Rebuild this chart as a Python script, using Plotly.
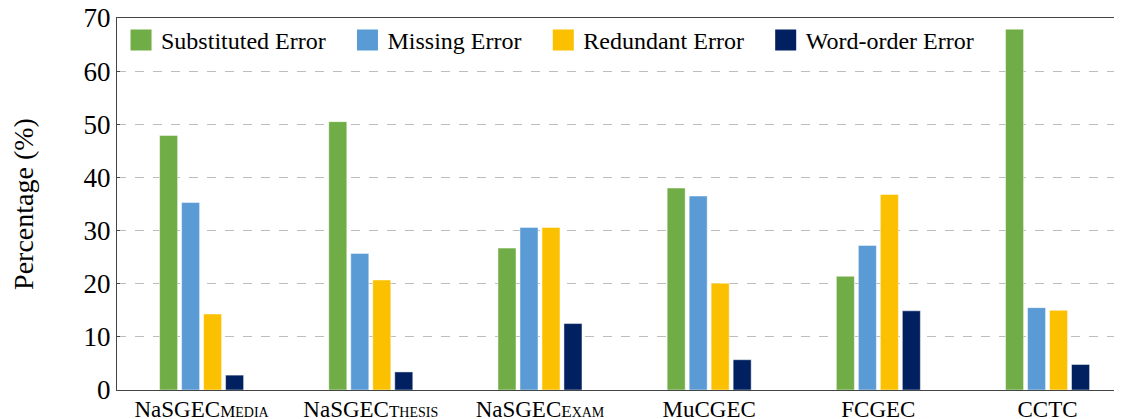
import plotly.graph_objects as go

categories = [
    "NaSGEC<span style='font-size:17px'>M</span><span style='font-size:14px'>EDIA</span>",
    "NaSGEC<span style='font-size:17px'>T</span><span style='font-size:14px'>HESIS</span>",
    "NaSGEC<span style='font-size:17px'>E</span><span style='font-size:14px'>XAM</span>",
    "MuCGEC",
    "FCGEC",
    "CCTC",
]
series_names = ["Substituted Error", "Missing Error", "Redundant Error", "Word-order Error"]
substituted = [47.9, 50.5, 26.7, 38.0, 21.4, 67.9]
missing = [35.3, 25.7, 30.6, 36.5, 27.2, 15.5]
redundant = [14.3, 20.7, 30.6, 20.1, 36.8, 15.0]
word_order = [2.8, 3.4, 12.5, 5.7, 14.9, 4.8]
y_ticks = [0, 10, 20, 30, 40, 50, 60, 70]

colors = ["#70AD47", "#5B9BD5", "#FBC000", "#002060"]
values = [substituted, missing, redundant, word_order]

FONT = "Liberation Serif"
xpos = list(range(len(categories)))
PAD = "\u00a0\u00a0\u2009"

fig = go.Figure()
for name, vals, col in zip(series_names, values, colors):
    fig.add_trace(go.Bar(
        x=xpos, y=vals, name=name, showlegend=False,
        marker=dict(color=col, line=dict(width=0.8, color="rgba(255,255,255,0.6)")),
    ))
for name, col in zip(series_names, colors):
    fig.add_trace(go.Scatter(
        x=[None], y=[None], mode="markers", name=name + PAD,
        marker=dict(symbol="square", size=16, color=col, line=dict(color=col, width=5)),
    ))

# the page body adds an 8px margin, so the figure is 8px smaller than the window
fig.update_layout(
    width=1114, height=411,
    margin=dict(l=109, r=0, t=10, b=29, autoexpand=False),
    plot_bgcolor="white", paper_bgcolor="white",
    barmode="group", bargap=0.48, bargroupgap=0.18,
    font=dict(family=FONT, color="black", size=24),
    legend=dict(
        orientation="h", x=0.004, y=1.0, xanchor="left", yanchor="top",
        font=dict(family=FONT, size=24), bgcolor="rgba(0,0,0,0)",
        itemsizing="trace",
    ),
    xaxis=dict(
        range=[-0.5, 5.44], tickmode="array", tickvals=xpos, ticktext=categories,
        showgrid=False, showline=True, linecolor="#444", linewidth=1.3, mirror=True,
        ticks="", tickfont=dict(family=FONT, size=23), zeroline=False,
        automargin=False, ticklabeloverflow="allow", ticklabelstandoff=-2,
    ),
    yaxis=dict(
        range=[0, 70], tickmode="array", tickvals=y_ticks,
        showgrid=True, gridcolor="#bdbdbd", griddash="dash", gridwidth=1,
        showline=True, linecolor="#444", linewidth=1.3, mirror=True,
        ticks="inside", ticklen=3, tickcolor="#444",
        tickfont=dict(family=FONT, size=27), zeroline=False, automargin=False,
        ticklabeloverflow="allow",
        title=dict(text="Percentage (%)", font=dict(family=FONT, size=28), standoff=43),
    ),
)

fig.write_html("out.html")
